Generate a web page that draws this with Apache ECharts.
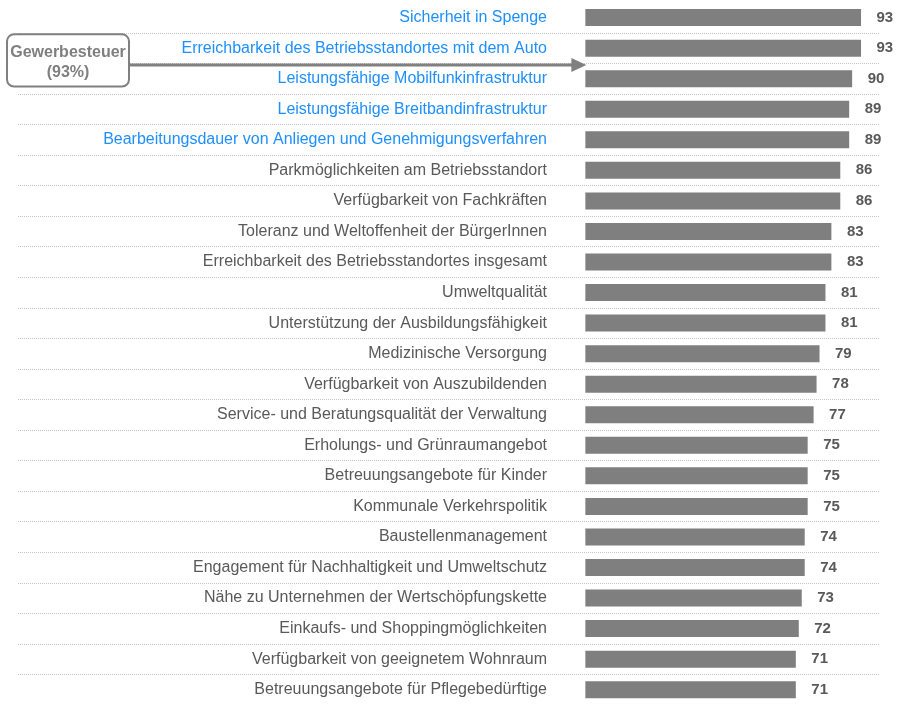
<!DOCTYPE html>
<html>
<head>
<meta charset="utf-8">
<script src="https://cdn.jsdelivr.net/npm/echarts@6/dist/echarts.min.js"></script>
<style>
html,body{margin:0;padding:0;background:#fff;}
#chart{width:897px;height:705px;}
</style>
</head>
<body>
<div id="chart"></div>
<script>
var categories = [
  'Sicherheit in Spenge',
  'Erreichbarkeit des Betriebsstandortes mit dem Auto',
  'Leistungsfähige Mobilfunkinfrastruktur',
  'Leistungsfähige Breitbandinfrastruktur',
  'Bearbeitungsdauer von Anliegen und Genehmigungsverfahren',
  'Parkmöglichkeiten am Betriebsstandort',
  'Verfügbarkeit von Fachkräften',
  'Toleranz und Weltoffenheit der BürgerInnen',
  'Erreichbarkeit des Betriebsstandortes insgesamt',
  'Umweltqualität',
  'Unterstützung der Ausbildungsfähigkeit',
  'Medizinische Versorgung',
  'Verfügbarkeit von Auszubildenden',
  'Service- und Beratungsqualität der Verwaltung',
  'Erholungs- und Grünraumangebot',
  'Betreuungsangebote für Kinder',
  'Kommunale Verkehrspolitik',
  'Baustellenmanagement',
  'Engagement für Nachhaltigkeit und Umweltschutz',
  'Nähe zu Unternehmen der Wertschöpfungskette',
  'Einkaufs- und Shoppingmöglichkeiten',
  'Verfügbarkeit von geeignetem Wohnraum',
  'Betreuungsangebote für Pflegebedürftige'
];
var values = [93, 93, 90, 89, 89, 86, 86, 83, 83, 81, 81, 79, 78, 77, 75, 75, 75, 74, 74, 73, 72, 71, 71];
var highlighted = [0, 1, 2, 3, 4];
var annotationText = ['Gewerbesteuer', '(93%)'];
var annotationFrom = 1; // arrow points at boundary between these rows
var annotationTo = 2;

var FONT = 'Liberation Sans, Arial, sans-serif';
var chart = echarts.init(document.getElementById('chart'));

chart.setOption({
  animation: false,
  backgroundColor: '#ffffff',
  grid: { left: 18, right: 17, top: 2.3, bottom: -6.1 },
  xAxis: {
    type: 'value',
    min: -191.4,
    max: 99.4,
    show: false
  },
  yAxis: {
    type: 'category',
    data: categories,
    inverse: true,
    axisLine: { show: false },
    axisTick: { show: false },
    axisLabel: {
      margin: -529,
      fontFamily: FONT,
      fontSize: 16,
      color: function (value, index) {
        return highlighted.indexOf(index) >= 0 ? '#1E8FFF' : '#595959';
      }
    },
    splitLine: {
      show: true,
      interval: function (index) { return index > 0; },
      lineStyle: { color: '#c4c4c4', width: 1, type: [1, 1] }
    }
  },
  series: [{
    type: 'bar',
    data: values,
    barWidth: 17,
    itemStyle: { color: '#7f7f7f' },
    label: {
      show: true,
      position: 'right',
      distance: 15.5,
      fontFamily: FONT,
      fontSize: 15,
      fontWeight: 'bold',
      color: '#595959'
    }
  }]
});

// Annotation anchored to the chart's scales
var yA = chart.convertToPixel({ yAxisIndex: 0 }, categories[annotationFrom]);
var yB = chart.convertToPixel({ yAxisIndex: 0 }, categories[annotationTo]);
var arrowY = (yA + yB) / 2 + 1.5;
var tipX = chart.convertToPixel({ xAxisIndex: 0 }, 0) + 1;
var boxL = 7, boxR = 129, boxT = 34.3, boxB = 86.5;

chart.setOption({
  graphic: [
    {
      type: 'line', z: 100,
      shape: { x1: boxR, y1: arrowY, x2: tipX - 14, y2: arrowY },
      style: { stroke: '#808080', lineWidth: 3 }
    },
    {
      type: 'polygon', z: 100,
      shape: { points: [[tipX - 15, arrowY - 7], [tipX, arrowY], [tipX - 15, arrowY + 7]] },
      style: { fill: '#808080' }
    },
    {
      type: 'rect', z: 101,
      shape: { x: boxL, y: boxT, width: boxR - boxL, height: boxB - boxT, r: 7 },
      style: { fill: '#ffffff', stroke: '#808080', lineWidth: 2 }
    },
    {
      type: 'text', z: 102,
      style: {
        x: (boxL + boxR) / 2, y: (boxT + boxB) / 2 + 2,
        text: annotationText.join('\n'),
        align: 'center', verticalAlign: 'middle',
        font: 'bold 16px ' + FONT,
        lineHeight: 20,
        fill: '#7f7f7f'
      }
    }
  ]
});
</script>
</body>
</html>
